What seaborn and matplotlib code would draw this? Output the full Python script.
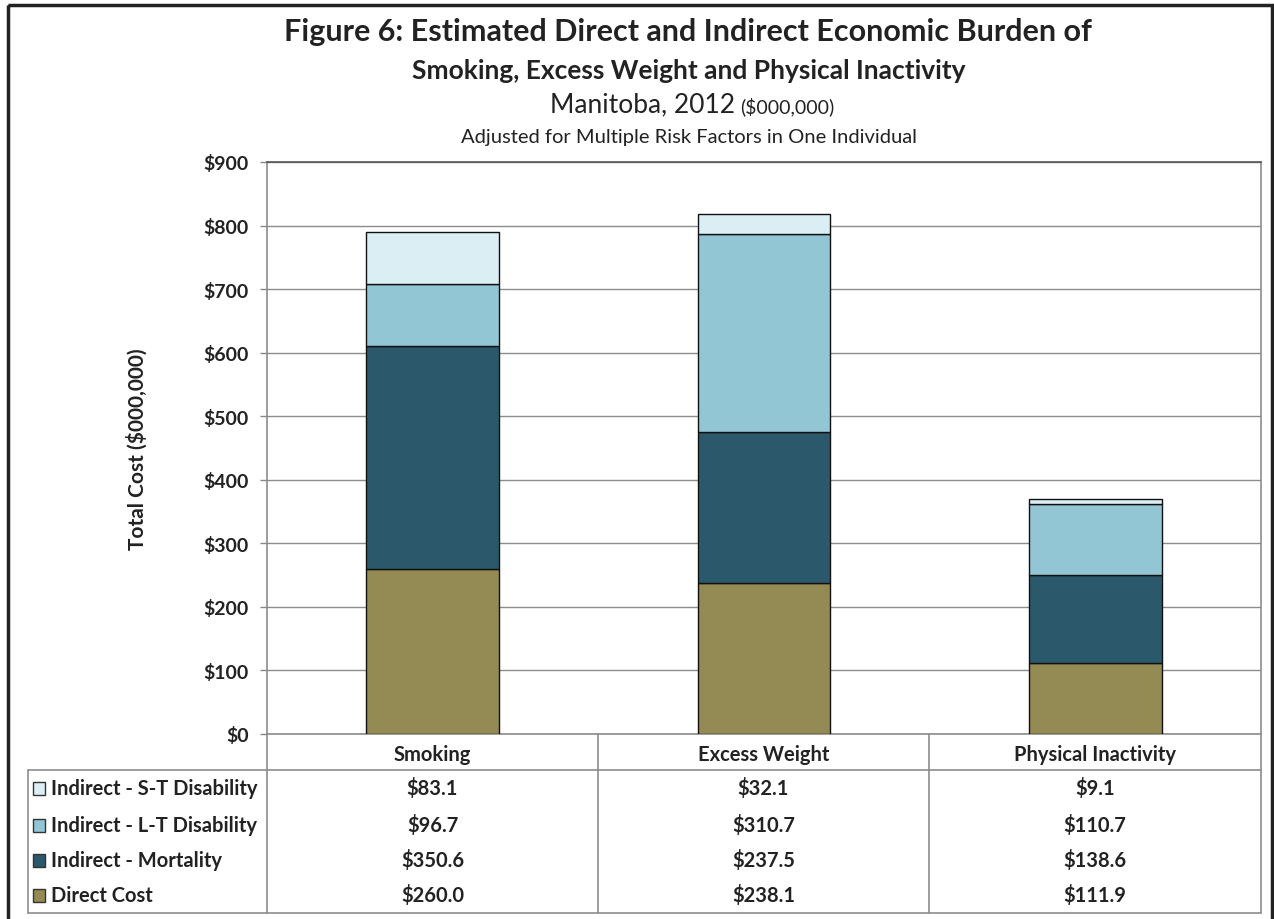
import matplotlib
matplotlib.use("Agg")
import matplotlib.pyplot as plt
import seaborn as sns
import numpy as np
import pandas as pd
from matplotlib.patches import Rectangle

categories = ["Smoking", "Excess Weight", "Physical Inactivity"]
direct_cost = [260.0, 238.1, 111.9]
indirect_mortality = [350.6, 237.5, 138.6]
indirect_lt_disability = [96.7, 310.7, 110.7]
indirect_st_disability = [83.1, 32.1, 9.1]

series_names = ["Direct Cost", "Indirect - Mortality", "Indirect - L-T Disability", "Indirect - S-T Disability"]
series_values = [direct_cost, indirect_mortality, indirect_lt_disability, indirect_st_disability]
colors = ["#948A54", "#2B586B", "#93C6D5", "#DAEEF3"]
yticks = [0, 100, 200, 300, 400, 500, 600, 700, 800, 900]

sns.set_theme(style="white")
plt.rcParams["font.family"] = ["Lato", "DejaVu Sans"]

W, H = 1274, 920
fig = plt.figure(figsize=(W / 100, H / 100), dpi=100)

L, R, T, B = 267, 1261, 163, 735
ax = fig.add_axes([L / W, 1 - B / H, (R - L) / W, (B - T) / H])

bottom = np.zeros(len(categories))
for name, vals, col in zip(series_names, series_values, colors):
    d = pd.DataFrame({"cat": categories, "val": vals})
    sns.barplot(data=d, x="cat", y="val", order=categories, color=col, saturation=1, bottom=bottom,
                width=0.4, edgecolor="#111111", linewidth=1.0, ax=ax, zorder=3)
    bottom = bottom + np.array(vals)

txtc = "#222222"
ax.set_ylim(0, 900)
ax.set_xlim(-0.5, 2.5)
ax.set_yticks(yticks)
ax.set_yticklabels([f"${v}" for v in yticks], fontsize=14, fontweight="bold", color=txtc)
ax.tick_params(axis="y", length=5, width=1, color="#888888", left=True, pad=8)
ax.set_xticks([])
ax.set_xlabel("")
ax.set_ylabel("Total Cost ($000,000)", fontsize=15, fontweight="bold", color=txtc, labelpad=40)
ax.grid(axis="y", color="#8c8c8c", linewidth=1.0, zorder=0)
ax.set_axisbelow(True)
for s in ax.spines.values():
    s.set_color("#8c8c8c")
    s.set_linewidth(1.2)
ax.spines["top"].set_color("#555555")

# overlay in pixel coordinates for titles and data table
ov = fig.add_axes([0, 0, 1, 1], zorder=-1)
ov.set_xlim(0, W)
ov.set_ylim(H, 0)
ov.axis("off")
ov2 = fig.add_axes([0, 0, 1, 1], zorder=5)
ov2.set_xlim(0, W)
ov2.set_ylim(H, 0)
ov2.axis("off")
ov2.patch.set_alpha(0)

# outer frame
ov.add_patch(Rectangle((8, 6), 1264, 940, fill=False, edgecolor="#222222", linewidth=2.5, clip_on=False))

ov2.text(688, 32, "Figure 6: Estimated Direct and Indirect Economic Burden of", ha="center", va="center",
         fontsize=22, fontweight="bold", color=txtc)
ov2.text(689, 71, "Smoking, Excess Weight and Physical Inactivity", ha="center", va="center",
         fontsize=19, fontweight="bold", color=txtc)
ov2.text(735, 105, "Manitoba, 2012", ha="right", va="center", fontsize=19, color=txtc)
ov2.text(740, 107, "($000,000)", ha="left", va="center", fontsize=14, color=txtc)
ov2.text(689, 138, "Adjusted for Multiple Risk Factors in One Individual", ha="center", va="center",
         fontsize=14.5, color=txtc)

# data table
lc = "#8c8c8c"
colx = [L, 598, 929, R]
ov2.plot([28, R], [771, 771], color=lc, lw=1.2)
ov2.plot([28, R], [914, 914], color=lc, lw=1.2)
ov2.plot([28, 28], [771, 914], color=lc, lw=1.2)
for x in colx:
    ov2.plot([x, x], [B, 914], color=lc, lw=1.2)

fs = 14.5
for i, c in enumerate(categories):
    ov2.text((colx[i] + colx[i + 1]) / 2, 755, c, ha="center", va="center", fontsize=fs,
             fontweight="bold", color=txtc)

row_y = [789, 826, 861, 896]
rows = list(zip(series_names, series_values, colors))[::-1]
for (name, vals, col), y in zip(rows, row_y):
    ov2.add_patch(Rectangle((33, y - 6), 12, 13, facecolor=col, edgecolor="#333333", linewidth=1))
    ov2.text(51, y, name, ha="left", va="center", fontsize=fs, fontweight="bold", color=txtc)
    for i, v in enumerate(vals):
        ov2.text((colx[i] + colx[i + 1]) / 2, y, f"${v:.1f}", ha="center", va="center", fontsize=fs,
                 fontweight="bold", color=txtc)

fig.savefig("out.png", dpi=100, facecolor="white")
